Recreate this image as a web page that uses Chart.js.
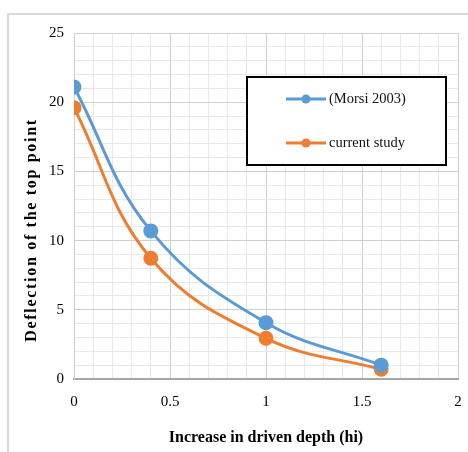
<!DOCTYPE html>
<html>
<head>
<meta charset="utf-8">
<script src="https://cdn.jsdelivr.net/npm/chart.js@4"></script>
<style>
  html, body { margin: 0; padding: 0; background: #fff; }
  #wrap { position: relative; width: 468px; height: 452px; overflow: hidden; }
  #frame { position: absolute; left: 7px; top: 13px; width: 480px; height: 460px; border: 2px solid #d9d9d9; }
  canvas { position: absolute; left: 0; top: 0; }
</style>
</head>
<body>
<div id="wrap">
  <div id="frame"></div>
  <canvas id="chart" width="468" height="452"></canvas>
</div>
<script>
const depth = [0, 0.4, 1, 1.6];
const morsi = [21.1, 10.7, 4.07, 1.0];
const current = [19.6, 8.72, 2.94, 0.7];
const seriesNames = ['(Morsi 2003)', 'current study'];
const xLabel = 'Increase in driven depth (hi)';
const yLabel = 'Deflection of the top point';

const serif = '"Liberation Serif", "Times New Roman", serif';

function isMajor(v, step) {
  const r = v / step;
  return Math.abs(r - Math.round(r)) < 1e-6;
}

// legend box drawn inside the plot, Excel-style
const boxLegend = {
  id: 'boxLegend',
  afterDraw(chart) {
    const ctx = chart.ctx;
    const a = chart.chartArea;
    const x = a.left + 173, y = a.top + 44, w = 199, h = 88;
    ctx.save();
    ctx.fillStyle = '#fff';
    ctx.fillRect(x, y, w, h);
    ctx.strokeStyle = '#000';
    ctx.lineWidth = 2;
    ctx.strokeRect(x, y, w, h);
    chart.data.datasets.forEach((ds, i) => {
      const cy = y + 22 + i * 44;
      ctx.strokeStyle = ds.borderColor;
      ctx.lineWidth = 3;
      ctx.beginPath();
      ctx.moveTo(x + 39, cy);
      ctx.lineTo(x + 79, cy);
      ctx.stroke();
      ctx.fillStyle = ds.borderColor;
      ctx.beginPath();
      ctx.arc(x + 59, cy, 4.5, 0, Math.PI * 2);
      ctx.fill();
      ctx.fillStyle = '#111';
      ctx.font = '14.5px ' + serif;
      ctx.textBaseline = 'middle';
      ctx.textAlign = 'left';
      ctx.fillText(ds.label, x + 82, cy);
    });
    ctx.restore();
  }
};

// y title sits a bit lower than the plot centre
const yTitle = {
  id: 'yTitle',
  afterDraw(chart) {
    const ctx = chart.ctx;
    const a = chart.chartArea;
    ctx.save();
    ctx.translate(32, (a.top + a.bottom) / 2 + 24);
    ctx.rotate(-Math.PI / 2);
    ctx.font = 'bold 16px ' + serif;
    ctx.letterSpacing = '1.7px';
    ctx.fillStyle = '#000';
    ctx.textAlign = 'center';
    ctx.textBaseline = 'middle';
    ctx.fillText(yLabel, 0, 0);
    ctx.restore();
  }
};

new Chart(document.getElementById('chart'), {
  type: 'line',
  data: {
    datasets: [
      {
        label: seriesNames[0],
        data: depth.map((d, i) => ({ x: d, y: morsi[i] })),
        borderColor: '#5b9bd5',
        backgroundColor: '#5b9bd5',
        borderWidth: 3,
        pointRadius: 6,
        tension: 0.4,
        fill: false,
      },
      {
        label: seriesNames[1],
        data: depth.map((d, i) => ({ x: d, y: current[i] })),
        borderColor: '#ed7d31',
        backgroundColor: '#ed7d31',
        borderWidth: 3,
        pointRadius: 6,
        tension: 0.4,
        fill: false,
      },
    ],
  },
  options: {
    responsive: false,
    animation: false,
    layout: { padding: { top: 33, right: 10, left: 0, bottom: 0 } },
    plugins: { legend: { display: false }, tooltip: { enabled: false } },
    scales: {
      x: {
        type: 'linear',
        min: 0,
        max: 2,
        afterFit: (s) => { s.height = 73; s.paddingLeft = 0; s.paddingRight = 0; },
        ticks: {
          stepSize: 0.1,
          autoSkip: false,
          maxRotation: 0,
          padding: 14,
          color: '#000',
          font: { family: serif, size: 15 },
          callback: (v) => (isMajor(v, 0.5) ? String(Math.round(v * 10) / 10) : ''),
        },
        grid: {
          drawTicks: false,
          lineWidth: 1,
          color: (c) => (isMajor(c.tick.value, 0.5) ? '#d0d0d0' : '#e8e8e8'),
        },
        border: { color: '#a6a6a6', width: 2 },
        title: {
          display: true,
          text: xLabel,
          color: '#000',
          font: { family: serif, size: 16, weight: 'bold' },
          padding: { top: 0, bottom: 5 },
        },
      },
      y: {
        min: 0,
        max: 25,
        afterFit: (s) => { s.width = 74; s.paddingTop = 0; s.paddingBottom = 0; },
        ticks: {
          stepSize: 1,
          autoSkip: false,
          padding: 10,
          color: '#000',
          font: { family: serif, size: 15 },
          callback: (v) => (isMajor(v, 5) ? String(v) : ''),
        },
        grid: {
          drawTicks: false,
          lineWidth: 1,
          color: (c) => (isMajor(c.tick.value, 5) ? '#d0d0d0' : '#e8e8e8'),
        },
        border: { color: '#d0d0d0', width: 1 },
      },
    },
  },
  plugins: [boxLegend, yTitle],
});
</script>
</body>
</html>
